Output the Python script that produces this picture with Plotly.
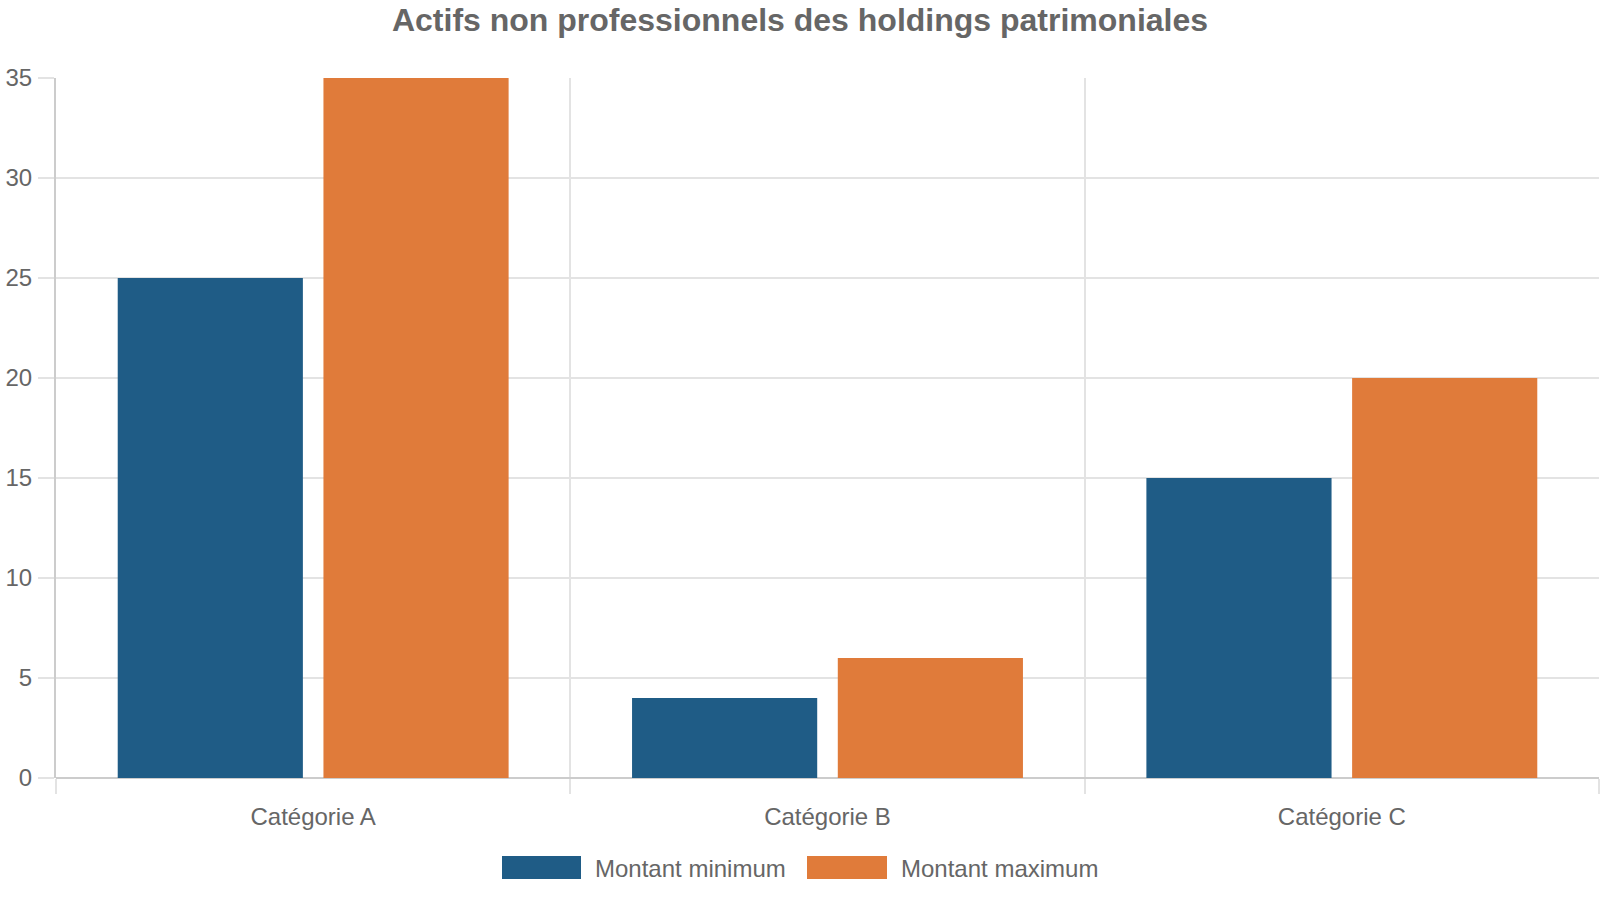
import plotly.graph_objects as go

categories = ["Catégorie A", "Catégorie B", "Catégorie C"]
series_names = ["Montant minimum", "Montant maximum"]
montant_minimum = [25, 4, 15]
montant_maximum = [35, 6, 20]
y_ticks = [0, 5, 10, 15, 20, 25, 30, 35]
title_text = "Actifs non professionnels des holdings patrimoniales"

BLUE = "#1F5C86"
ORANGE = "#E07B3A"
TEXT = "#666666"
FONT = "Liberation Sans, Arial, sans-serif"

fig = go.Figure()
for name, vals, col in [(series_names[0], montant_minimum, BLUE),
                        (series_names[1], montant_maximum, ORANGE)]:
    fig.add_trace(go.Bar(x=categories, y=vals, name=name,
                         marker=dict(color=col, line=dict(width=0)),
                         showlegend=False))

# custom legend (large swatches)
L, T, B, PW, PH = 56, 78, 122, 1543, 700
def px_x(x):
    return (x - L) / PW
def px_y(y):
    return (900 - B - y) / PH

shapes = []
annotations = []
legend_items = [(series_names[0], BLUE, 502, 581, 593),
                (series_names[1], ORANGE, 807, 887, 899)]
for name, col, x0, x1, tx in legend_items:
    shapes.append(dict(type="rect", xref="paper", yref="paper",
                       x0=px_x(x0), x1=px_x(x1), y0=px_y(879), y1=px_y(856),
                       fillcolor=col, line=dict(width=0)))
    annotations.append(dict(text=name, xref="paper", yref="paper",
                            x=px_x(tx), y=px_y(868), xanchor="left", yanchor="middle",
                            showarrow=False, font=dict(size=24, color=TEXT, family=FONT)))

fig.update_layout(
    width=1600, height=900,
    margin=dict(l=L, r=1, t=T, b=B),
    paper_bgcolor="white", plot_bgcolor="white",
    title=dict(text=title_text, x=0.5, xref="container", y=1 - 20 / 900, yanchor="middle",
               xanchor="center",
               font=dict(size=32, color=TEXT, family=FONT, weight="bold")),
    font=dict(family=FONT, color=TEXT, size=24),
    bargap=0.2, bargroupgap=0.1, barmode="group",
    shapes=shapes, annotations=annotations,
    showlegend=False,
)
fig.update_xaxes(
    type="category", tickson="boundaries",
    showgrid=True, gridcolor="#E3E3E3", gridwidth=1.5,
    ticks="outside", ticklen=15, tickcolor="#E3E3E3", tickwidth=1.5,
    showline=False,
    tickfont=dict(size=24, color=TEXT, family=FONT),
    ticklabelstandoff=22,
)
fig.update_yaxes(
    range=[0, 35], tickvals=y_ticks,
    showgrid=True, gridcolor="#E3E3E3", gridwidth=1.5,
    ticks="outside", ticklen=16, tickcolor="#E3E3E3", tickwidth=1.5,
    showline=True, linecolor="#CCCCCC", linewidth=2,
    zeroline=True, zerolinecolor="#CCCCCC", zerolinewidth=2,
    tickfont=dict(size=24, color=TEXT, family=FONT),
    ticklabelstandoff=1,
)

fig.write_html("out.html")
